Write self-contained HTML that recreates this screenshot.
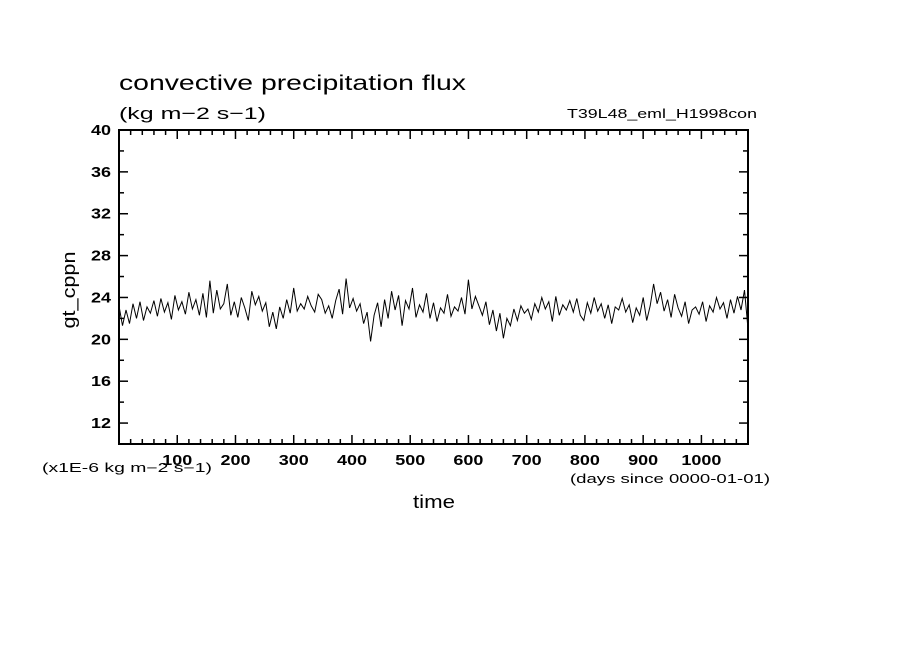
<!DOCTYPE html>
<html><head><meta charset="utf-8"><style>
html,body{margin:0;padding:0;background:#fff;}
svg text{font-family:"Liberation Sans",sans-serif;fill:#000;}
</style></head><body>
<svg id="chart" width="904" height="654" viewBox="0 0 904 654" xmlns="http://www.w3.org/2000/svg">
<rect x="0" y="0" width="904" height="654" fill="#fff"/>
<text x="119" y="90" font-size="21" textLength="347" lengthAdjust="spacingAndGlyphs">convective precipitation flux</text>
<text x="119" y="119" font-size="17" textLength="147" lengthAdjust="spacingAndGlyphs">(kg m−2 s−1)</text>
<text x="567" y="118" font-size="13" textLength="190" lengthAdjust="spacingAndGlyphs">T39L48_eml_H1998con</text>
<text x="0" y="0" font-size="18" text-anchor="middle" textLength="77" lengthAdjust="spacingAndGlyphs" transform="translate(75,290) rotate(-90)">gt_cppn</text>
<text x="42" y="472" font-size="12.5" textLength="170" lengthAdjust="spacingAndGlyphs">(x1E-6 kg m−2 s−1)</text>
<text x="570" y="483" font-size="12.5" textLength="200" lengthAdjust="spacingAndGlyphs">(days since 0000-01-01)</text>
<text x="413" y="508" font-size="18" textLength="42" lengthAdjust="spacingAndGlyphs">time</text>
<g id="axes"></g>
<path id="series" fill="none" stroke="#000" stroke-width="1"/>
<rect x="119" y="130" width="629" height="314" fill="none" stroke="#000" stroke-width="2"/>
</svg>
<script>
const xStart = 0, xStep = 6;
const values = [
23.2,21.3,22.8,21.5,23.4,22.0,23.6,21.8,23.1,22.5,23.7,
22.2,23.9,22.6,23.5,21.9,24.2,22.8,23.6,22.4,24.5,22.9,
23.8,22.3,24.4,22.1,25.6,22.5,24.7,22.9,23.4,25.3,22.3,
23.6,22.1,24.0,23.0,21.8,24.6,23.3,24.1,22.7,23.5,21.2,
22.6,21.0,23.1,22.0,23.8,22.5,24.9,22.7,23.4,22.9,24.1,
23.2,22.6,24.3,23.8,22.5,23.2,22.0,23.7,24.8,22.4,25.8,
23.0,23.9,22.7,23.4,21.5,22.6,19.8,22.3,23.5,21.2,23.8,
22.0,24.6,22.8,24.2,21.3,23.7,22.9,24.9,22.1,23.3,22.6,
24.4,22.0,23.5,21.7,23.0,22.5,24.3,22.2,23.1,22.7,24.0,
22.4,25.7,22.9,24.1,23.2,22.3,23.6,21.4,22.8,20.8,22.5,
20.1,22.0,21.3,22.9,21.8,23.2,22.5,22.9,21.9,23.4,22.6,
24.0,22.9,23.6,21.7,24.1,22.3,23.3,22.8,23.7,22.6,23.9,
22.3,21.8,23.5,22.5,24.0,22.7,23.4,22.0,23.3,21.5,23.1,
22.8,23.9,22.6,23.3,21.6,23.0,22.3,24.0,21.8,23.2,25.3,
23.4,24.5,22.7,23.8,22.1,24.3,23.0,22.2,23.6,21.5,22.8,
23.1,22.4,23.6,21.7,23.2,22.6,24.0,22.9,23.5,22.0,23.8,
22.5,24.1,22.8,24.7,21.0
];
const xTickLabels = [100,200,300,400,500,600,700,800,900,1000];
const yTickLabels = [12,16,20,24,28,32,36,40];
const xMin=0,xMax=1080,yMin=10,yMax=40;
const L=119,R=748,T=130,B=444;
function sx(v){return L+(v-xMin)/(xMax-xMin)*(R-L);}
function sy(v){return B-(v-yMin)/(yMax-yMin)*(B-T);}
const NS="http://www.w3.org/2000/svg";
const axes=document.getElementById('axes');
function line(x1,y1,x2,y2,name){
  const l=document.createElementNS(NS,'line');
  l.setAttribute('x1',x1);l.setAttribute('y1',y1);l.setAttribute('x2',x2);l.setAttribute('y2',y2);
  l.setAttribute('stroke','#000');l.setAttribute('stroke-width','1.5');
  
  
  axes.appendChild(l);
}
for(let d=20;d<xMax;d+=20){
  const major=d%100===0, len=major?9:5, x=sx(d);
  line(x,B,x,B-len,'x-tick');
  line(x,T,x,T+len,'x-tick-top');
}
for(let v=yMin+2;v<yMax;v+=2){
  const major=v%4===0, len=major?9:5, y=sy(v);
  line(L,y,L+len,y,'y-tick');
  line(R,y,R-len,y,'y-tick-right');
}
xTickLabels.forEach(v=>{
  const t=document.createElementNS(NS,'text');
  t.setAttribute('x',sx(v));t.setAttribute('y',B+21);
  t.setAttribute('font-size','15');t.setAttribute('font-weight','bold');t.setAttribute('text-anchor','middle');
  t.setAttribute('textLength',String(v).length*10);t.setAttribute('lengthAdjust','spacingAndGlyphs');
  t.textContent=v;
  
  
  axes.appendChild(t);
});
yTickLabels.forEach(v=>{
  const t=document.createElementNS(NS,'text');
  t.setAttribute('x',L-28);t.setAttribute('y',sy(v)+5);
  t.setAttribute('font-size','15');t.setAttribute('font-weight','bold');
  t.setAttribute('textLength','20');t.setAttribute('lengthAdjust','spacingAndGlyphs');
  t.textContent=v;
  
  
  axes.appendChild(t);
});
let d='';
values.forEach((v,i)=>{const x=sx(xStart+i*xStep);d+=(i?'L':'M')+x.toFixed(1)+','+sy(v).toFixed(1);});
document.getElementById('series').setAttribute('d',d);
</script>
</body></html>
